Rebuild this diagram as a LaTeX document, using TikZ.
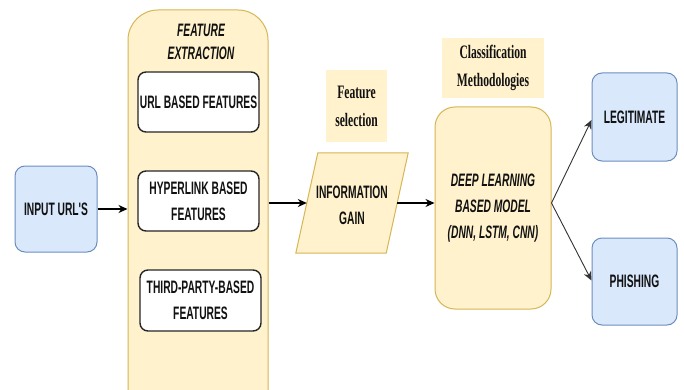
\documentclass[tikz,border=0pt]{standalone}
\usepackage{fontspec}
\usetikzlibrary{arrows.meta,calc}
\newfontfamily\narrowsans[FakeStretch=0.57]{Liberation Sans}
\newfontfamily\narrowserif[FakeStretch=0.61]{Liberation Serif}
\definecolor{yfill}{HTML}{FFF2CC}
\definecolor{ydraw}{HTML}{D6B656}
\definecolor{bfill}{HTML}{DAE8FC}
\definecolor{bdraw}{HTML}{6C8EBF}
\definecolor{txt}{HTML}{111111}
\tikzset{
  lbl/.style={font=\narrowsans\bfseries\fontsize{18}{26}\selectfont, text=txt, align=center},
  serlbl/.style={font=\narrowserif\bfseries\fontsize{19}{28}\selectfont, text=txt, align=center},
  bluebox/.style={lbl, draw=bdraw, fill=bfill, line width=1pt, rounded corners=10pt, inner sep=0pt},
  whitebox/.style={lbl, draw=black!85, fill=white, line width=1.4pt, rounded corners=8pt, inner sep=0pt},
  yellowbox/.style={draw=ydraw, fill=yfill, line width=1pt, inner sep=0pt},
  thickarr/.style={line width=1.4pt, -{Stealth[length=9pt,width=8pt]}},
  thinarr/.style={line width=0.9pt, draw=black!80, -{Stealth[length=9pt,width=8pt]}},
}
\begin{document}
\begin{tikzpicture}[x=1pt,y=-1pt]
\useasboundingbox (0,0) rectangle (684,390);
\fill[white] (0,0) rectangle (684,390);
\clip (0,0) rectangle (684,390);
% input
\node[bluebox, minimum width=82pt, minimum height=86pt] (inp) at (56,209) {INPUT URL'S};
% feature extraction container
\node[yellowbox, rounded corners=30pt, minimum width=140pt, minimum height=420pt] (fe) at (198,220) {};
\node[lbl, font=\narrowsans\bfseries\itshape\fontsize{18}{23}\selectfont] (fet) at (201,42) {FEATURE\\EXTRACTION};
\node[whitebox, minimum width=121pt, minimum height=60pt] (url) at (198.5,102) {URL BASED FEATURES};
\node[whitebox, minimum width=121pt, minimum height=60pt] (hyp) at (198.5,201) {HYPERLINK BASED\\FEATURES};
\node[whitebox, minimum width=121pt, minimum height=61pt] (tp) at (200.5,300.5) {THIRD-PARTY-BASED\\FEATURES};
% feature selection
\node[serlbl, fill=yfill, minimum width=61pt, minimum height=72pt, inner sep=0pt] (fs) at (356.5,106) {Feature\\selection};
% information gain parallelogram
\node[lbl, minimum width=112pt, minimum height=100pt, inner sep=0pt] (ig) at (352,203) {};
\fill[yfill, draw=ydraw, line width=1pt] ($(ig.north west)+(22,0)$) -- (ig.north east) -- ($(ig.south east)+(-22,0)$) -- (ig.south west) -- cycle;
\node[lbl] (igt) at ($(ig.center)+(0,2)$) {INFORMATION\\GAIN};
% classification
\node[serlbl, fill=yfill, minimum width=102pt, minimum height=60pt, inner sep=0pt] (cm) at (493,68) {Classification\\Methodologies};
\node[yellowbox, lbl, font=\narrowsans\bfseries\itshape\fontsize{18}{26}\selectfont, rounded corners=20pt, minimum width=116pt, minimum height=202pt] (dl) at (493,208) {DEEP LEARNING\\BASED MODEL\\(DNN, LSTM, CNN)};
% outputs
\node[bluebox, minimum width=85pt, minimum height=88pt] (leg) at (634.5,117) {LEGITIMATE};
\node[bluebox, minimum width=85pt, minimum height=87pt] (ph) at (634.5,281.5) {PHISHING};
% connectors
\draw[thickarr] (inp.east) -- (inp.east -| fe.west);
\draw[thickarr] (ig.west -| fe.east) -- ($(ig.west)+(11,0)$);
\draw[thickarr] ($(ig.east)+(-11,0)$) -- (ig.east -| dl.west);
\draw[thinarr] ($(dl.east)+(0,-5)$) -- ($(leg.west)+(0,3)$);
\draw[thinarr] ($(dl.east)+(0,-5)$) -- ($(ph.west)+(0,-1)$);
\end{tikzpicture}
\end{document}
